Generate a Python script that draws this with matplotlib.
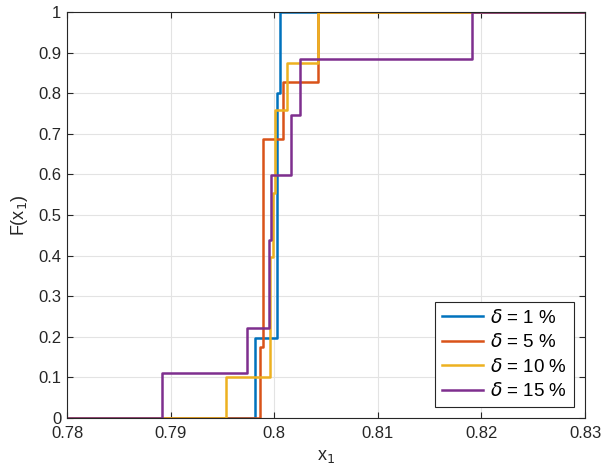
import matplotlib
matplotlib.use('Agg')
import matplotlib.pyplot as plt
import numpy as np

plt.rcParams['font.family'] = ['Liberation Sans', 'DejaVu Sans']
plt.rcParams['mathtext.fontset'] = 'dejavusans'

# jump locations and ECDF levels after each jump
x_d1 = [0.7981, 0.80030, 0.80058]
f_d1 = [0.196, 0.800, 1.0]

x_d5 = [0.79863, 0.79888, 0.80088, 0.80420]
f_d5 = [0.176, 0.686, 0.828, 1.0]

x_d10 = [0.79535, 0.79964, 0.79985, 0.80010, 0.80120, 0.80426]
f_d10 = [0.100, 0.397, 0.553, 0.759, 0.874, 1.0]

x_d15 = [0.78914, 0.79734, 0.79953, 0.79969, 0.80165, 0.80252, 0.81906]
f_d15 = [0.111, 0.221, 0.438, 0.599, 0.746, 0.884, 1.0]

labels = [r'$\delta$ = 1 %', r'$\delta$ = 5 %', r'$\delta$ = 10 %', r'$\delta$ = 15 %']
colors = ['#0072BD', '#D95319', '#EDB120', '#7E2F8E']

x_min, x_max = 0.78, 0.83

fig = plt.figure(figsize=(6.01, 4.73), dpi=100)
ax = fig.add_axes([67 / 601, 1 - 418 / 473, (585 - 67) / 601, (418 - 12) / 473])

for xs, fs, lab, c in zip([x_d1, x_d5, x_d10, x_d15], [f_d1, f_d5, f_d10, f_d15], labels, colors):
    xx = np.concatenate([[x_min - 0.01], xs, [x_max + 0.01]])
    ff = np.concatenate([[0.0], fs, [fs[-1]]])
    ax.step(xx, ff, where='post', color=c, lw=1.8, label=lab)

ax.set_xlim(x_min, x_max)
ax.set_ylim(0, 1)
ax.set_xticks([0.78, 0.79, 0.80, 0.81, 0.82, 0.83])
ax.set_xticklabels(['0.78', '0.79', '0.8', '0.81', '0.82', '0.83'])
ax.set_yticks(np.round(np.arange(0, 1.01, 0.1), 1))
ax.set_yticklabels(['0', '0.1', '0.2', '0.3', '0.4', '0.5', '0.6', '0.7', '0.8', '0.9', '1'])
ax.tick_params(direction='in', top=True, right=True, labelsize=12, colors='#262626', length=4)
ax.tick_params(axis='x', pad=6)
ax.tick_params(axis='y', pad=4)
ax.grid(True, color='#e3e3e3', lw=0.8)
ax.set_axisbelow(True)
for s in ax.spines.values():
    s.set_color('#262626')
    s.set_linewidth(0.8)

ax.set_xlabel('x$_1$', fontsize=13, color='#262626', labelpad=5)
ax.set_ylabel('F(x$_1$)', fontsize=13, color='#262626', labelpad=6)

leg = ax.legend(loc='lower right', fontsize=13.5, fancybox=False, framealpha=1,
                edgecolor='#262626', handlelength=2.2, handletextpad=0.4,
                borderpad=0.35, labelspacing=0.35, borderaxespad=0.6)
leg.get_frame().set_linewidth(0.8)

fig.savefig('out.png', dpi=100)
